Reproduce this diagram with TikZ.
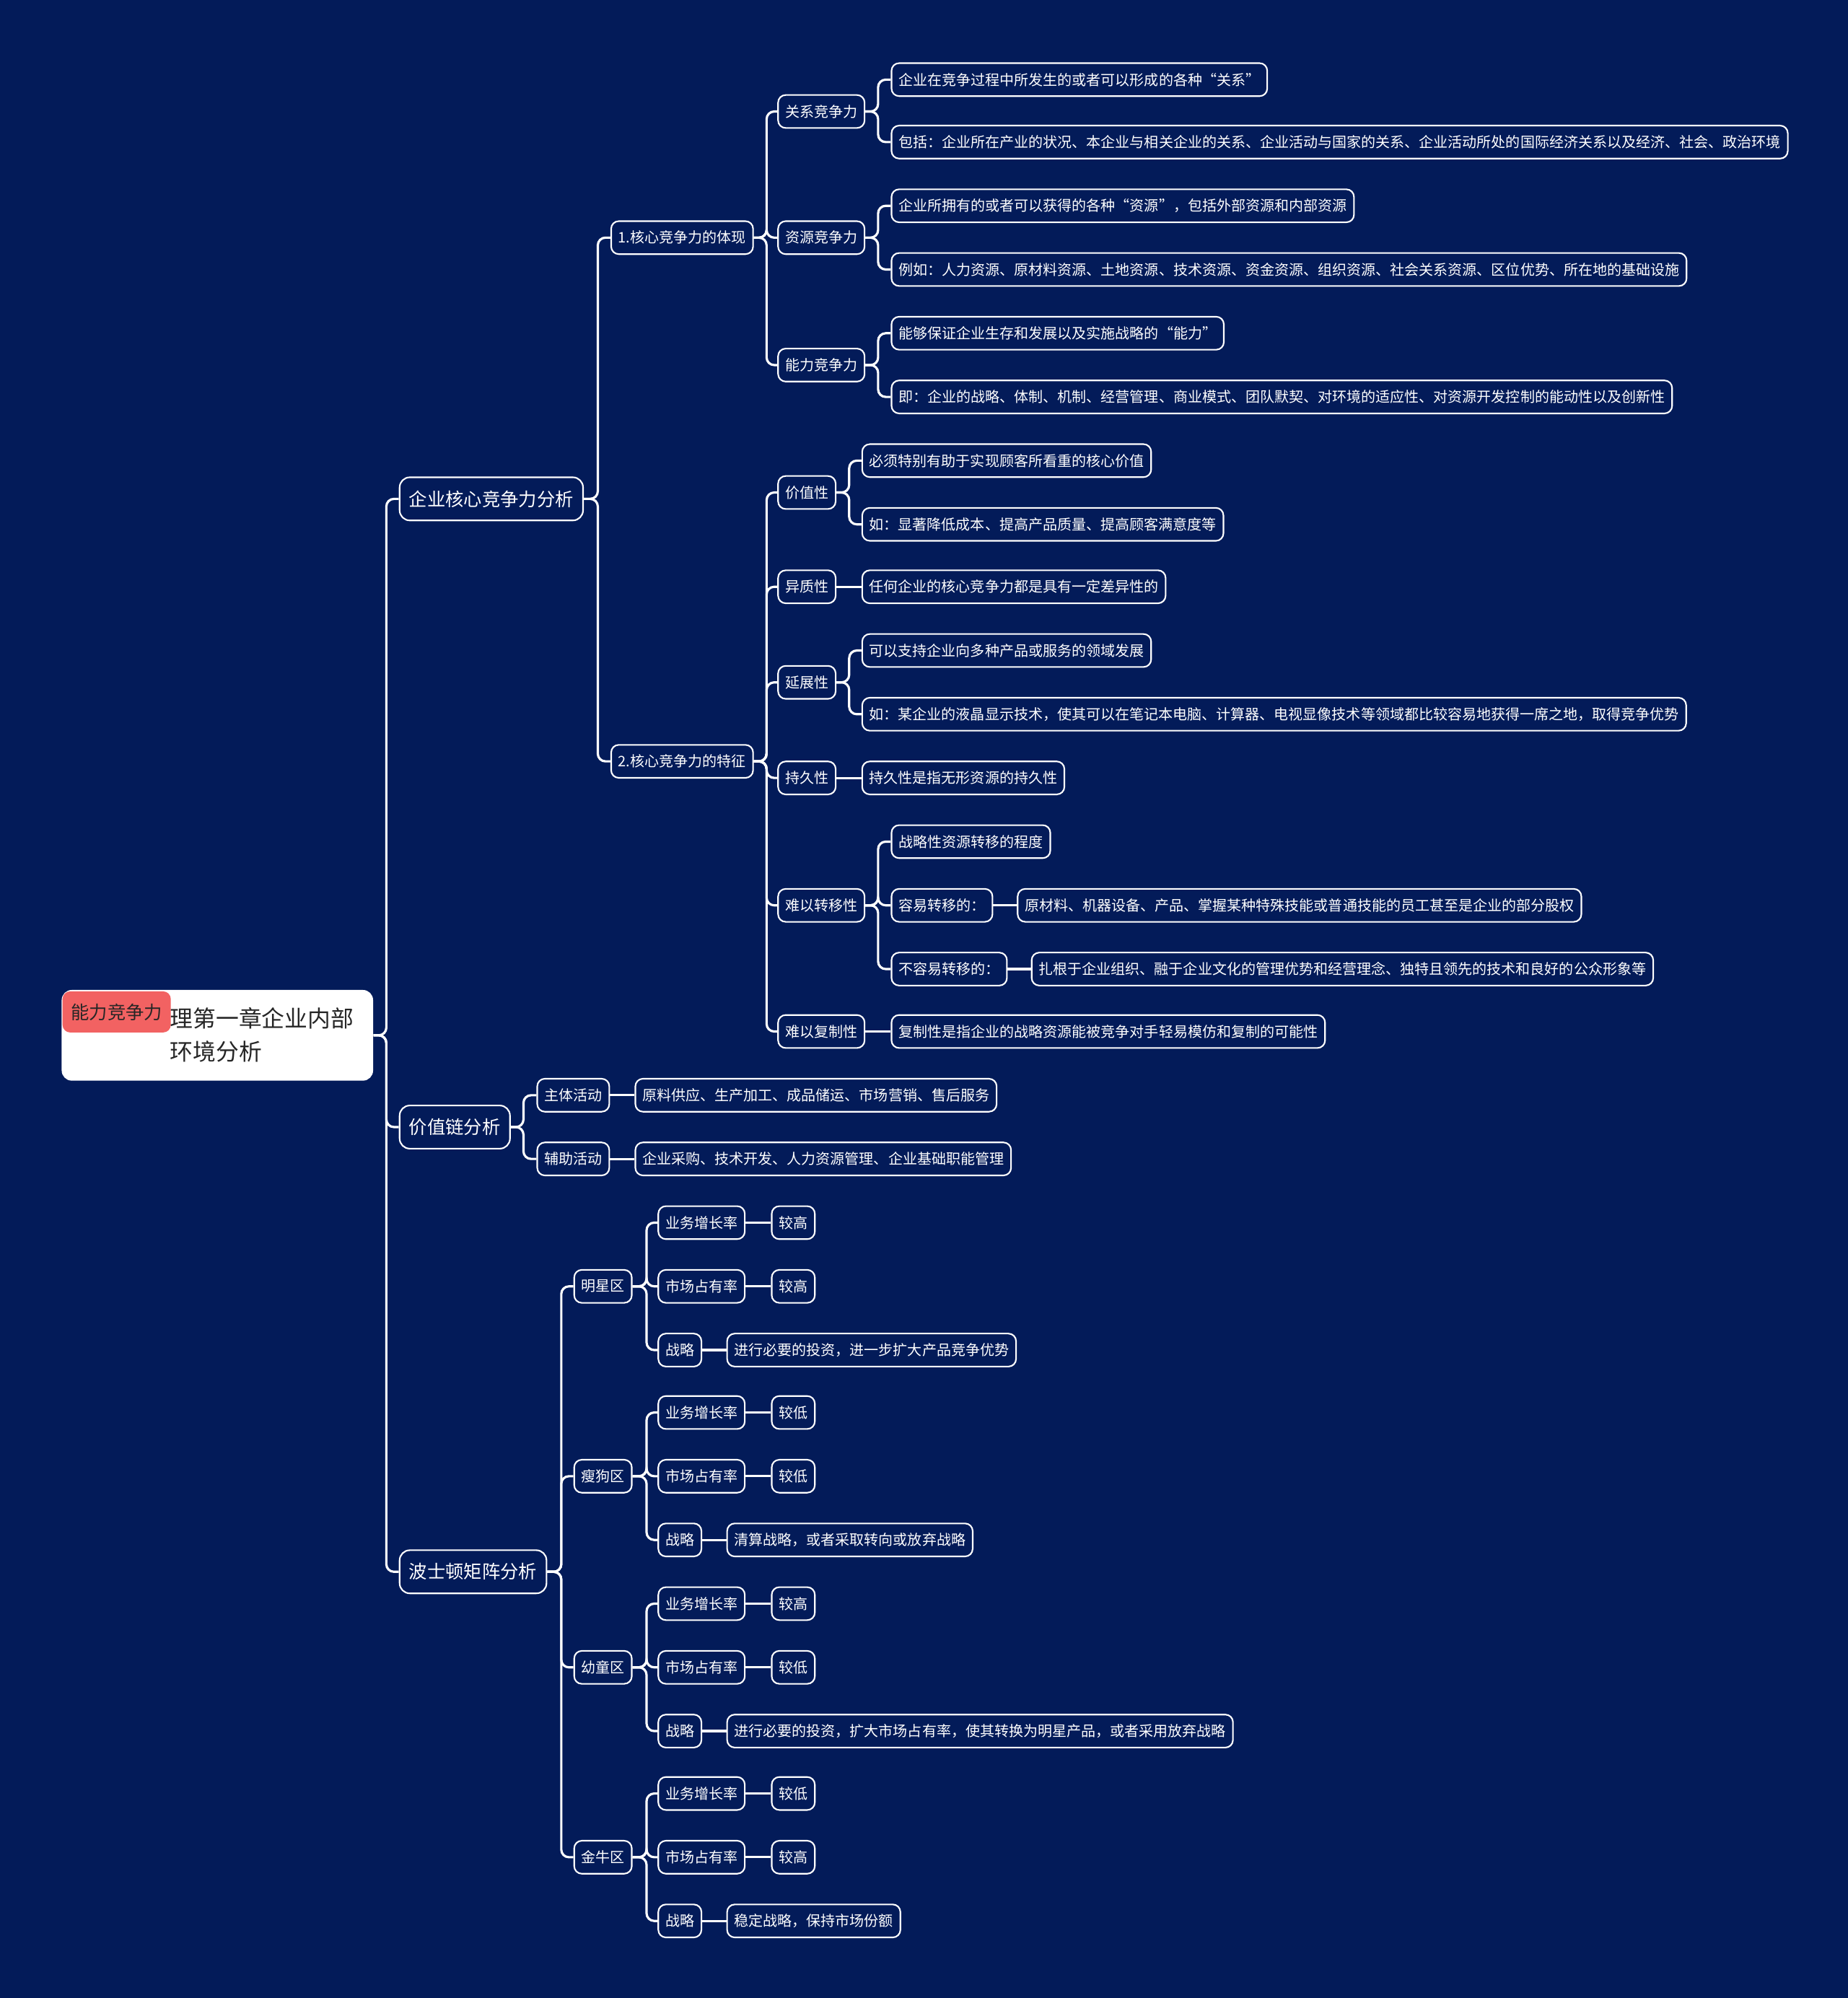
\documentclass[tikz,border=0pt]{standalone}
\usepackage{fontspec}
\setmainfont{Noto Sans CJK SC}
\definecolor{navy}{HTML}{031B59}
\definecolor{tagred}{HTML}{F26262}
\definecolor{inkgray}{HTML}{262626}
\tikzset{
  box/.style={draw=white, line width=0.6pt, fill=navy, text=white, rounded corners=3pt, anchor=west},
  leaf/.style={box, font=\fontsize{5.7}{7}\selectfont, minimum height=13pt, inner xsep=2.8pt, inner ysep=0pt},
  topic/.style={box, font=\fontsize{7.2}{9}\selectfont, minimum height=17pt, inner xsep=3.75pt, inner ysep=0pt, rounded corners=4pt},
  link/.style={draw=white, line width=0.9pt, rounded corners=3pt},
}
\begin{document}
\begin{tikzpicture}[x=0.017655cm, y=-0.017655cm]
\fill[navy] (0,0) rectangle (1450,1568);
\useasboundingbox (0,0) rectangle (1450,1568);

% root
\node[fill=white, rounded corners=4pt, anchor=north west, inner sep=0pt,
      minimum width=122.75pt, minimum height=35.75pt] (root) at (48,776.5) {};
\node[anchor=west, align=left, inner sep=0pt, text=inkgray,
      font=\fontsize{9.05}{13.2}\selectfont] (roottext) at (133,812.3) {理第一章企业内部\\环境分析};
\node[fill=tagred, rounded corners=3pt, anchor=north west, inner sep=0pt,
      minimum width=42.65pt, minimum height=16.2pt, text=inkgray,
      font=\fontsize{7.2}{8}\selectfont] (tag) at (48.7,777.6) {能力竞争力};

% main branches
\node[topic] (core) at (313,391.5) {企业核心竞争力分析};
\node[topic] (chain) at (313,884.5) {价值链分析};
\node[topic] (bcg) at (313,1233.5) {波士顿矩阵分析};

% core competence
\node[leaf] (core1) at (479,186.5) {1.核心竞争力的体现};
\node[leaf] (core2) at (479,597.5) {2.核心竞争力的特征};

\node[leaf] (rel) at (610,87.5) {关系竞争力};
\node[leaf] (res) at (610,186.5) {资源竞争力};
\node[leaf] (abl) at (610,286.5) {能力竞争力};
\node[leaf] (rel1) at (699,62.5) {企业在竞争过程中所发生的或者可以形成的各种“关系”};
\node[leaf] (rel2) at (699,111.5) {包括：企业所在产业的状况、本企业与相关企业的关系、企业活动与国家的关系、企业活动所处的国际经济关系以及经济、社会、政治环境};
\node[leaf] (res1) at (699,161.5) {企业所拥有的或者可以获得的各种“资源”，包括外部资源和内部资源};
\node[leaf] (res2) at (699,211.5) {例如：人力资源、原材料资源、土地资源、技术资源、资金资源、组织资源、社会关系资源、区位优势、所在地的基础设施};
\node[leaf] (abl1) at (699,261.5) {能够保证企业生存和发展以及实施战略的“能力”};
\node[leaf] (abl2) at (699,311.5) {即：企业的战略、体制、机制、经营管理、商业模式、团队默契、对环境的适应性、对资源开发控制的能动性以及创新性};

\node[leaf] (val) at (610,386.5) {价值性};
\node[leaf] (het) at (610,460.5) {异质性};
\node[leaf] (ext) at (610,535.5) {延展性};
\node[leaf] (dur) at (610,610.5) {持久性};
\node[leaf] (ntr) at (610,710.5) {难以转移性};
\node[leaf] (ncp) at (610,809.5) {难以复制性};
\node[leaf] (val1) at (676,361.5) {必须特别有助于实现顾客所看重的核心价值};
\node[leaf] (val2) at (676,411.5) {如：显著降低成本、提高产品质量、提高顾客满意度等};
\node[leaf] (het1) at (676,460.5) {任何企业的核心竞争力都是具有一定差异性的};
\node[leaf] (ext1) at (676,510.5) {可以支持企业向多种产品或服务的领域发展};
\node[leaf] (ext2) at (676,560.5) {如：某企业的液晶显示技术，使其可以在笔记本电脑、计算器、电视显像技术等领域都比较容易地获得一席之地，取得竞争优势};
\node[leaf] (dur1) at (676,610.5) {持久性是指无形资源的持久性};
\node[leaf] (ntr1) at (699,660.5) {战略性资源转移的程度};
\node[leaf] (ntr2) at (699,710.5) {容易转移的：};
\node[leaf] (ntr2a) at (798,710.5) {原材料、机器设备、产品、掌握某种特殊技能或普通技能的员工甚至是企业的部分股权};
\node[leaf] (ntr3) at (699,760.5) {不容易转移的：};
\node[leaf] (ntr3a) at (809,760.5) {扎根于企业组织、融于企业文化的管理优势和经营理念、独特且领先的技术和良好的公众形象等};
\node[leaf] (ncp1) at (699,809.5) {复制性是指企业的战略资源能被竞争对手轻易模仿和复制的可能性};

% value chain
\node[leaf] (main) at (421,859.5) {主体活动};
\node[leaf] (main1) at (498,859.5) {原料供应、生产加工、成品储运、市场营销、售后服务};
\node[leaf] (aux) at (421,909.5) {辅助活动};
\node[leaf] (aux1) at (498,909.5) {企业采购、技术开发、人力资源管理、企业基础职能管理};

% BCG matrix
\node[leaf] (star) at (450,1009.5) {明星区};
\node[leaf] (stg) at (516,959.5) {业务增长率};
\node[leaf] (stgv) at (605,959.5) {较高};
\node[leaf] (stm) at (516,1009.5) {市场占有率};
\node[leaf] (stmv) at (605,1009.5) {较高};
\node[leaf] (sts) at (516,1059.5) {战略};
\node[leaf] (stsv) at (570,1059.5) {进行必要的投资，进一步扩大产品竞争优势};

\node[leaf] (dog) at (450,1158.5) {瘦狗区};
\node[leaf] (dgg) at (516,1108.5) {业务增长率};
\node[leaf] (dggv) at (605,1108.5) {较低};
\node[leaf] (dgm) at (516,1158.5) {市场占有率};
\node[leaf] (dgmv) at (605,1158.5) {较低};
\node[leaf] (dgs) at (516,1208.5) {战略};
\node[leaf] (dgsv) at (570,1208.5) {清算战略，或者采取转向或放弃战略};

\node[leaf] (kid) at (450,1308.5) {幼童区};
\node[leaf] (kdg) at (516,1258.5) {业务增长率};
\node[leaf] (kdgv) at (605,1258.5) {较高};
\node[leaf] (kdm) at (516,1308.5) {市场占有率};
\node[leaf] (kdmv) at (605,1308.5) {较低};
\node[leaf] (kds) at (516,1358.5) {战略};
\node[leaf] (kdsv) at (570,1358.5) {进行必要的投资，扩大市场占有率，使其转换为明星产品，或者采用放弃战略};

\node[leaf] (cow) at (450,1457.5) {金牛区};
\node[leaf] (cwg) at (516,1407.5) {业务增长率};
\node[leaf] (cwgv) at (605,1407.5) {较低};
\node[leaf] (cwm) at (516,1457.5) {市场占有率};
\node[leaf] (cwmv) at (605,1457.5) {较高};
\node[leaf] (cws) at (516,1507.5) {战略};
\node[leaf] (cwsv) at (570,1507.5) {稳定战略，保持市场份额};

% connectors
\draw[link] (root.east) -- ++(10,0) |- (core.west);
\draw[link] (root.east) -- ++(10,0) |- (chain.west);
\draw[link] (root.east) -- ++(10,0) |- (bcg.west);

\draw[link] (core.east) -- ++(11,0) |- (core1.west);
\draw[link] (core.east) -- ++(11,0) |- (core2.west);

\draw[link] (core1.east) -- ++(10,0) |- (rel.west);
\draw[link] (core1.east) -- ++(10,0) |- (res.west);
\draw[link] (core1.east) -- ++(10,0) |- (abl.west);
\draw[link] (rel.east) -- ++(10,0) |- (rel1.west);
\draw[link] (rel.east) -- ++(10,0) |- (rel2.west);
\draw[link] (res.east) -- ++(10,0) |- (res1.west);
\draw[link] (res.east) -- ++(10,0) |- (res2.west);
\draw[link] (abl.east) -- ++(10,0) |- (abl1.west);
\draw[link] (abl.east) -- ++(10,0) |- (abl2.west);

\draw[link] (core2.east) -- ++(10,0) |- (val.west);
\draw[link] (core2.east) -- ++(10,0) |- (het.west);
\draw[link] (core2.east) -- ++(10,0) |- (ext.west);
\draw[link] (core2.east) -- ++(10,0) |- (dur.west);
\draw[link] (core2.east) -- ++(10,0) |- (ntr.west);
\draw[link] (core2.east) -- ++(10,0) |- (ncp.west);
\draw[link] (val.east) -- ++(10,0) |- (val1.west);
\draw[link] (val.east) -- ++(10,0) |- (val2.west);
\draw[link] (het.east) -- (het1.west);
\draw[link] (ext.east) -- ++(10,0) |- (ext1.west);
\draw[link] (ext.east) -- ++(10,0) |- (ext2.west);
\draw[link] (dur.east) -- (dur1.west);
\draw[link] (ntr.east) -- ++(10,0) |- (ntr1.west);
\draw[link] (ntr.east) -- ++(10,0) |- (ntr2.west);
\draw[link] (ntr.east) -- ++(10,0) |- (ntr3.west);
\draw[link] (ntr2.east) -- (ntr2a.west);
\draw[link] (ntr3.east) -- (ntr3a.west);
\draw[link] (ncp.east) -- (ncp1.west);

\draw[link] (chain.east) -- ++(10,0) |- (main.west);
\draw[link] (chain.east) -- ++(10,0) |- (aux.west);
\draw[link] (main.east) -- (main1.west);
\draw[link] (aux.east) -- (aux1.west);

\draw[link] (bcg.east) -- ++(11,0) |- (star.west);
\draw[link] (bcg.east) -- ++(11,0) |- (dog.west);
\draw[link] (bcg.east) -- ++(11,0) |- (kid.west);
\draw[link] (bcg.east) -- ++(11,0) |- (cow.west);

\draw[link] (star.east) -- ++(11,0) |- (stg.west);
\draw[link] (star.east) -- ++(11,0) |- (stm.west);
\draw[link] (star.east) -- ++(11,0) |- (sts.west);
\draw[link] (stg.east) -- (stgv.west);
\draw[link] (stm.east) -- (stmv.west);
\draw[link] (sts.east) -- (stsv.west);

\draw[link] (dog.east) -- ++(11,0) |- (dgg.west);
\draw[link] (dog.east) -- ++(11,0) |- (dgm.west);
\draw[link] (dog.east) -- ++(11,0) |- (dgs.west);
\draw[link] (dgg.east) -- (dggv.west);
\draw[link] (dgm.east) -- (dgmv.west);
\draw[link] (dgs.east) -- (dgsv.west);

\draw[link] (kid.east) -- ++(11,0) |- (kdg.west);
\draw[link] (kid.east) -- ++(11,0) |- (kdm.west);
\draw[link] (kid.east) -- ++(11,0) |- (kds.west);
\draw[link] (kdg.east) -- (kdgv.west);
\draw[link] (kdm.east) -- (kdmv.west);
\draw[link] (kds.east) -- (kdsv.west);

\draw[link] (cow.east) -- ++(11,0) |- (cwg.west);
\draw[link] (cow.east) -- ++(11,0) |- (cwm.west);
\draw[link] (cow.east) -- ++(11,0) |- (cws.west);
\draw[link] (cwg.east) -- (cwgv.west);
\draw[link] (cwm.east) -- (cwmv.west);
\draw[link] (cws.east) -- (cwsv.west);
\end{tikzpicture}
\end{document}
